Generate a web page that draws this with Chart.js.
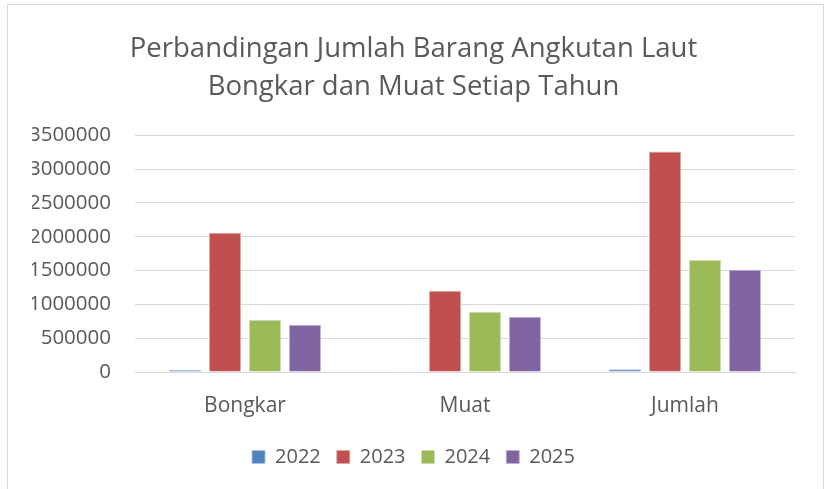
<!DOCTYPE html>
<html>
<head>
<meta charset="utf-8">
<script src="https://cdn.jsdelivr.net/npm/chart.js@4"></script>
<style>
    body{margin:0;background:#fff;overflow:hidden}
    #frame{position:absolute;left:7px;top:4px;width:815px;height:500px;border:1px solid #d9d9d9;border-bottom:none}
    #wrap{position:absolute;left:0;top:0;width:827px;height:489px}
</style>
</head>
<body>
<div id="frame"></div>
<div id="wrap"><canvas id="chart" width="827" height="489"></canvas></div>
<script>
// data
const kategori = ["Bongkar", "Muat", "Jumlah"];
const tahun = ["2022", "2023", "2024", "2025"];
const data2022 = [30000, 10000, 40000];
const data2023 = [2060000, 1200000, 3260000];
const data2024 = [767000, 890000, 1657000];
const data2025 = [697000, 815000, 1512000];
const yTicks = [0, 500000, 1000000, 1500000, 2000000, 2500000, 3000000, 3500000];

const warna = ["#4f81bd", "#c0504d", "#9bbb59", "#8064a2"];
const garis = ["#a7c0de", "#dca8a6", "#cddcab", "#bfb1d0"];
const semua = [data2022, data2023, data2024, data2025];

const fontName = "'Open Sans', 'Noto Sans', sans-serif";

let datasets = [];
for(let i=0; i<tahun.length; i++){
    datasets.push({
        label: tahun[i],
        data: semua[i],
        backgroundColor: warna[i],
        borderColor: garis[i],
        borderWidth: 1,
        categoryPercentage: 0.727,
        barPercentage: 0.8
    });
}

let ctx = document.getElementById("chart");
let chart = new Chart(ctx, {
    type: "bar",
    data: {
        labels: kategori,
        datasets: datasets
    },
    options: {
        responsive: false,
        animation: false,
        layout: {
            padding: {left: 32, right: 32, top: 31, bottom: 12}
        },
        plugins: {
            title: {
                display: true,
                text: ["Perbandingan Jumlah Barang Angkutan Laut", "Bongkar dan Muat Setiap Tahun"],
                color: "#595959",
                font: {family: fontName, size: 27.5, weight: "normal", lineHeight: 1.35},
                padding: {top: 0, bottom: 30}
            },
            legend: {
                position: "bottom",
                labels: {
                    color: "#595959",
                    font: {family: fontName, size: 20},
                    boxWidth: 13,
                    boxHeight: 13,
                    padding: 16,
                    useBorderRadius: false
                }
            },
            tooltip: {enabled: false}
        },
        scales: {
            x: {
                grid: {display: false, drawTicks: false},
                border: {display: true, color: "#d9d9d9"},
                afterFit: function(scale){
                    scale.height = 59;
                },
                ticks: {color: "#595959", font: {family: fontName, size: 21}, padding: 21}
            },
            y: {
                min: 0,
                max: 3500000,
                afterBuildTicks: function(scale){
                    scale.ticks = yTicks.map(v => ({value: v}));
                },
                afterFit: function(scale){
                    scale.width = 103;
                },
                grid: {color: "#d9d9d9", drawTicks: false},
                border: {display: false},
                ticks: {
                    color: "#595959",
                    font: {family: fontName, size: 20.5},
                    padding: 24,
                    callback: function(v){ return String(v); }
                }
            }
        }
    }
});
</script>
</body>
</html>
